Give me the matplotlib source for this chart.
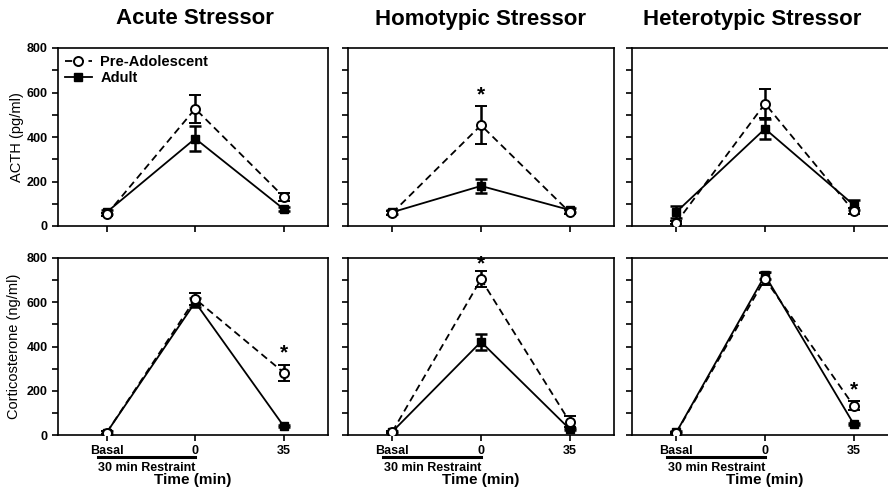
import matplotlib
matplotlib.use("Agg")
import matplotlib.pyplot as plt
from matplotlib.lines import Line2D
import numpy as np

plt.rcParams['font.family'] = ['Liberation Sans', 'DejaVu Sans']

titles = ["Acute Stressor", "Homotypic Stressor", "Heterotypic Stressor"]
xlabels = ["Basal", "0", "35"]
x = np.arange(3)

# ACTH (pg/ml), one row per stressor
acth_pre = [[52, 527, 131], [59, 453, 62], [15, 550, 67]]
acth_pre_err = [[8, 63, 18], [8, 85, 8], [8, 65, 15]]
acth_adult = [[62, 393, 76], [62, 180, 72], [63, 437, 95]]
acth_adult_err = [[8, 55, 8], [10, 30, 8], [25, 45, 22]]

# Corticosterone (ng/ml)
cort_pre = [[11, 615, 282], [15, 704, 60], [10, 705, 132]]
cort_pre_err = [[5, 28, 36], [5, 35, 25], [5, 28, 20]]
cort_adult = [[11, 600, 40], [15, 421, 27], [12, 722, 50]]
cort_adult_err = [[5, 20, 5], [5, 35, 5], [5, 15, 5]]

# significance stars: (row, col, x index, y value)
stars = [(0, 1, 1, 590), (1, 0, 2, 370), (1, 1, 1, 775), (1, 2, 2, 206)]

W, H = 888, 497
fig = plt.figure(figsize=(W / 100, H / 100), dpi=100)

cols = [(58, 328, -0.55), (348, 614, -0.5), (632, 898, -0.5)]
rows = [(48, 226), (258, 435)]

axes = [[None] * 3 for _ in range(2)]
for r, (top, bot) in enumerate(rows):
    for c, (l, rgt, xmin) in enumerate(cols):
        ax = fig.add_axes([l / W, 1 - bot / H, (rgt - l) / W, (bot - top) / H])
        axes[r][c] = ax
        ax.set_xlim(xmin, 2.5)
        ax.set_ylim(0, 800)
        for s in ax.spines.values():
            s.set_linewidth(1.2)
        ax.set_yticks([0, 200, 400, 600, 800])
        ax.set_yticks(np.arange(100, 800, 200), minor=True)
        ax.tick_params(axis='both', which='both', direction='out', length=4,
                       width=1.2, labelsize=9)
        ax.set_xticks(x)
        if c == 0:
            for lab in ax.get_yticklabels():
                lab.set_fontweight('bold')
        else:
            ax.set_yticklabels([])
        if r == 0:
            ax.set_xticklabels([])
        else:
            ax.set_xticklabels(xlabels, fontweight='bold')
            ax.plot([-0.1, 1.0], [-0.123, -0.123], color='black', lw=2.2,
                    transform=ax.get_xaxis_transform(), clip_on=False)
            ax.text(0.45, -0.185, "30 min Restraint", fontsize=9,
                    fontweight='bold', ha='center', va='center',
                    transform=ax.get_xaxis_transform())
            ax.text(0.5, -0.255, "Time (min)", fontsize=11,
                    fontweight='bold', ha='center', va='center',
                    transform=ax.transAxes)

data = [(acth_pre, acth_pre_err, acth_adult, acth_adult_err),
        (cort_pre, cort_pre_err, cort_adult, cort_adult_err)]

dash = (0, (4, 2.5))
for r in range(2):
    pre, pre_e, ad, ad_e = data[r]
    for c in range(3):
        ax = axes[r][c]
        ax.errorbar(x, ad[c], yerr=ad_e[c], color='black', lw=1.3,
                    marker='s', ms=5.5, mfc='black', capsize=4,
                    elinewidth=1.8, capthick=1.8, zorder=3)
        ax.errorbar(x, pre[c], yerr=pre_e[c], color='black', lw=1.3,
                    ls=dash, marker='o', ms=6.5, mfc='white',
                    mew=1.4, capsize=4, elinewidth=1.8, capthick=1.8,
                    zorder=4)

for r, c, xi, yv in stars:
    axes[r][c].text(xi, yv, "*", fontsize=15, fontweight='bold',
                    ha='center', va='center', zorder=5)

handles = [Line2D([], [], color='black', lw=1.3, ls=dash, marker='o', ms=6.5,
                  mfc='white', mew=1.4),
           Line2D([], [], color='black', lw=1.3, marker='s', ms=5.5,
                  mfc='black')]
axes[0][0].legend(handles, ["Pre-Adolescent", "Adult"], loc='upper left',
                  frameon=False, prop={'weight': 'bold', 'size': 10.5},
                  handlelength=1.8, handletextpad=0.6, borderaxespad=0.1,
                  labelspacing=0.15, bbox_to_anchor=(0.0, 1.0))

axes[0][0].set_ylabel("ACTH (pg/ml)", fontsize=10.5)
axes[0][0].yaxis.set_label_coords(-0.125, 0.5)
axes[1][0].set_ylabel("Corticosterone (ng/ml)", fontsize=10.5)
axes[1][0].yaxis.set_label_coords(-0.137, 0.5)

title_x = [195, 480, 752]
for t, tx in zip(titles, title_x):
    fig.text(tx / W, 1 - 19 / H, t, fontsize=16, fontweight='bold',
             ha='center', va='center')

fig.savefig("out.png", dpi=100)
